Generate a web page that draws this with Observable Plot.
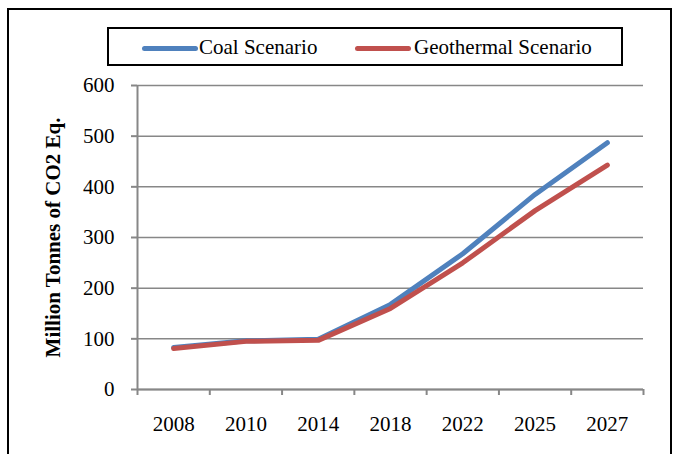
<!DOCTYPE html>
<html>
<head>
<meta charset="utf-8">
<script src="https://cdn.jsdelivr.net/npm/d3@7"></script>
<script src="https://cdn.jsdelivr.net/npm/@observablehq/plot@0.6"></script>
<style>
  html, body { margin: 0; padding: 0; background: #fff; }
  #wrap { position: relative; width: 674px; height: 454px; overflow: hidden; font-family: "Liberation Serif", "Times New Roman", serif; }
  #frame { position: absolute; left: 7px; top: 8px; width: 665px; height: 470px; box-sizing: border-box; border: 2px solid #000; }
  #legend { position: absolute; left: 107px; top: 27px; width: 516px; height: 39px; box-sizing: border-box; border: 2px solid #000; background: #fff; }
  .sw { position: absolute; top: 16.5px; height: 5px; border-radius: 3px; }
  .lt { position: absolute; top: 0; line-height: 36px; font-size: 21px; color: #000; white-space: nowrap; }
  #chart { position: absolute; left: 0; top: 0; }
</style>
</head>
<body>
<div id="wrap">
  <div id="frame"></div>
  <div id="chart"></div>
  <div id="legend"></div>
</div>
<script>
const years = ["2008", "2010", "2014", "2018", "2022", "2025", "2027"];
const coal = [83, 96, 99, 168, 268, 385, 487];
const geothermal = [81, 95, 97, 160, 250, 353, 443];
const seriesNames = ["Coal Scenario", "Geothermal Scenario"];
const seriesColors = ["#4F81BD", "#C0504D"];
const yTicks = [0, 100, 200, 300, 400, 500, 600];
const yLabel = "Million Tonnes of CO2 Eq.";

const rows = [];
years.forEach((y, i) => {
  rows.push({i, year: y, value: coal[i], series: seriesNames[0]});
});
years.forEach((y, i) => {
  rows.push({i, year: y, value: geothermal[i], series: seriesNames[1]});
});

const gray = "#878787";
const font = "'Liberation Serif', 'Times New Roman', serif";

const chart = Plot.plot({
  width: 674,
  height: 454,
  marginLeft: 137,
  marginRight: 31,
  marginTop: 85,
  marginBottom: 65,
  style: {fontFamily: font, fontSize: "21px", color: "#000", background: "transparent", overflow: "visible"},
  x: {type: "linear", domain: [-0.5, years.length - 0.5], axis: null},
  y: {domain: [0, 600], axis: null},
  color: {domain: seriesNames, range: seriesColors},
  marks: [
    Plot.gridY(yTicks, {stroke: gray, strokeOpacity: 1, strokeWidth: 1.5}),
    Plot.ruleX([-0.5], {stroke: gray, strokeWidth: 2}),
    Plot.ruleY([0], {stroke: gray, strokeWidth: 2}),
    Plot.axisY(yTicks, {tickSize: 6, tickPadding: 17, stroke: gray, strokeWidth: 2, fill: "#000", fontSize: 21, tickFormat: d => String(d), label: null}),
    Plot.axisX(d3.range(-0.5, years.length, 1), {tickSize: 6, stroke: gray, strokeWidth: 2, tickFormat: () => "", label: null}),
    Plot.axisX(d3.range(years.length), {tickSize: 0, tickPadding: 27, fill: "#000", fontSize: 21, tickFormat: i => years[i], label: null}),
    Plot.line(rows, {x: "i", y: "value", z: "series", stroke: "series", strokeWidth: 5, strokeLinecap: "round", strokeLinejoin: "round"}),
    Plot.text([yLabel], {frameAnchor: "left", textAnchor: "middle", rotate: -90, dx: -84, fontWeight: "bold", fontSize: 21, fill: "#000"})
  ]
});
document.getElementById("chart").appendChild(chart);

// legend built from series arrays
const legend = document.getElementById("legend");
const swLeft = [33, 246];
const txtLeft = [90, 305];
seriesNames.forEach((name, k) => {
  const sw = document.createElement("div");
  sw.className = "sw";
  sw.style.left = swLeft[k] + "px";
  sw.style.width = "56px";
  sw.style.background = seriesColors[k];
  legend.appendChild(sw);
  const t = document.createElement("div");
  t.className = "lt";
  t.style.left = txtLeft[k] + "px";
  t.textContent = name;
  legend.appendChild(t);
});
</script>
</body>
</html>
